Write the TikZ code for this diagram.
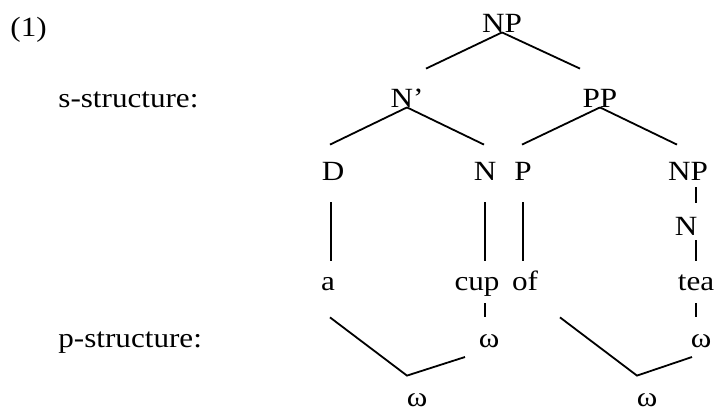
\documentclass[tikz,border=0pt]{standalone}
\usepackage{fontspec}
\setmainfont{Liberation Serif}[FakeStretch=1.12]
\usetikzlibrary{calc}
\tikzset{
  cat/.style={inner sep=0pt, anchor=base, text height=9.5pt, text depth=0pt},
  lvl/.style={inner sep=0pt, anchor=base west},
  branch/.style={line width=0.9pt, black},
  stem/.style={branch, shorten <=11pt, shorten >=5pt}
}

\begin{document}
\begin{tikzpicture}[x=0.5pt, y=-0.5pt, font=\fontsize{13.9}{16}\selectfont]
  \useasboundingbox (0,0) rectangle (720,409);
  % labels on the left
  \node[lvl] (ex) at (10,36) {(1)};
  \node[lvl] (sstr) at (58,107) {s-structure:};
  \node[lvl] (pstr) at (58,347) {p-structure:};
  % s-structure
  \node[cat] (np) at (502,32) {NP};
  \node[cat] (nbar) at (407,107) {N’};
  \node[cat] (pp) at (600,107) {PP};
  \node[cat] (d) at (333,180) {D};
  \node[cat] (n) at (485,180) {N};
  \node[cat] (p) at (523,180) {P};
  \node[cat] (npb) at (688,180) {NP};
  \node[cat] (nb) at (686,235) {N};
  \node[cat] (a) at (328,290) {a};
  \node[cat] (cup) at (477,290) {cup};
  \node[cat] (of) at (525,290) {of};
  \node[cat] (tea) at (696,290) {tea};
  % p-structure
  \node[cat] (wcup) at (489,347) {ω};
  \node[cat] (wtea) at (701,347) {ω};
  \node[cat] (wl) at (417,406) {ω};
  \node[cat] (wr) at (647,406) {ω};

  \draw[branch] (np.south) -- ($(nbar.north)+(19,-19)$);
  \draw[branch] (np.south) -- ($(pp.north)+(-20,-19)$);
  \draw[branch] (nbar.south) -- ($(d.north)+(-3,-16)$);
  \draw[branch] (nbar.south) -- ($(n.north)+(-1,-16)$);
  \draw[branch] (pp.south) -- ($(p.north)+(-1,-16)$);
  \draw[branch] (pp.south) -- ($(npb.north)+(-11,-16)$);
  \draw[stem] ([xshift=-1pt]d.south) -- ([xshift=-1pt]d.south |- a.north);
  \draw[stem] (n.south) -- (n.south |- cup.north);
  \draw[stem] (p.south) -- (p.south |- of.north);
  \draw[stem, shorten <=3.5pt, shorten >=6.5pt] (npb.south -| tea.south) -- (nb.north -| tea.south);
  \draw[stem, shorten <=2.5pt] (nb.south -| tea.south) -- (tea.north);
  \draw[stem, shorten <=6.5pt, shorten >=5.5pt] (cup.south -| n.south) -- (wcup.north -| n.south);
  \draw[stem, shorten <=6.5pt, shorten >=5.5pt] (tea.south) -- (wtea.north -| tea.south);
  \draw[branch] ($(a.south)+(2,27)$) -- ($(wl.north)+(-10,-11)$) -- ($(wcup.base)+(-24,10)$);
  \draw[branch] ($(of.south)+(35,27)$) -- ($(wr.north)+(-10,-11)$) -- ($(wtea.base)+(-9,10)$);
\end{tikzpicture}
\end{document}
